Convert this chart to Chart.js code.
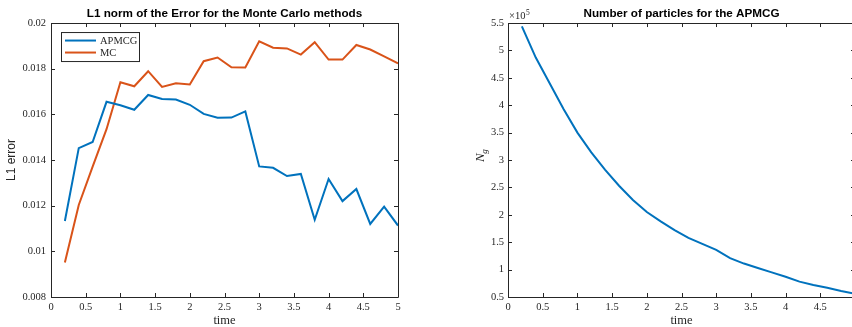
<!DOCTYPE html>
<html>
<head>
<meta charset="utf-8">
<script src="https://cdn.jsdelivr.net/npm/chart.js@4/dist/chart.umd.min.js"></script>
<style>
  html, body { margin: 0; padding: 0; background: #ffffff; width: 852px; height: 327px; overflow: hidden; }
  canvas { position: absolute; top: 0; }
  #errChart { left: 0; }
  #numChart { left: 430px; }
</style>
</head>
<body>
<canvas id="errChart" width="420" height="327"></canvas>
<canvas id="numChart" width="430" height="327"></canvas>
<script>
// Time steps shared by both plots
const times = [0.2, 0.4, 0.6, 0.8, 1.0, 1.2, 1.4, 1.6, 1.8, 2.0, 2.2, 2.4, 2.6,
               2.8, 3.0, 3.2, 3.4, 3.6, 3.8, 4.0, 4.2, 4.4, 4.6, 4.8, 5.0];

// L1 error of each method
const apmcgError = [0.01133, 0.01452, 0.01479, 0.01655, 0.01640, 0.01620, 0.01685, 0.01667, 0.01665,
                    0.01642, 0.01602, 0.01585, 0.01586, 0.01613, 0.01372, 0.01366, 0.01330, 0.01339,
                    0.01138, 0.01317, 0.01220, 0.01273, 0.01120, 0.01196, 0.01113];
const mcError = [0.00951, 0.01203, 0.01371, 0.01535, 0.01741, 0.01723, 0.01789, 0.01720, 0.01736,
                 0.01731, 0.01833, 0.01849, 0.01806, 0.01805, 0.01920, 0.01892, 0.01889, 0.01862,
                 0.01916, 0.01840, 0.01840, 0.01904, 0.01884, 0.01854, 0.01823];

// Number of particles N_g used by the APMCG
const particles = [544000, 487000, 440000, 393000, 350000, 314000, 282000, 253000, 227000,
                   205000, 188000, 172000, 158000, 147000, 136000, 121000, 111000, 103000,
                   95000, 87000, 78000, 72000, 67000, 61000, 56000];

const seriesNames = ['APMCG', 'MC'];
const chartTitles = ['L1 norm of the Error for the Monte Carlo methods', 'Number of particles for the APMCG'];
const axisTitles = { time: 'time', error: 'L1 error', count: 'N', countSub: 'g', exponent: '5' };

const BLUE = '#0072BD';
const ORANGE = '#D95319';
const AXIS = '#262626';
const SERIF = '"Liberation Serif", "Times New Roman", serif';
const SANS = '"Liberation Sans", Arial, sans-serif';

const toPoints = (xs, ys) => xs.map((x, i) => ({ x: x, y: ys[i] }));
const trim = v => String(Number(v.toFixed(6)));

// Box around the axes with inward tick marks on all four sides
const boxTicks = {
  id: 'boxTicks',
  afterDraw(chart) {
    const ctx = chart.ctx;
    const { left, right, top, bottom } = chart.chartArea;
    const len = 4;
    ctx.save();
    ctx.strokeStyle = AXIS;
    ctx.lineWidth = 1;
    ctx.beginPath();
    ctx.rect(Math.round(left) + 0.5, Math.round(top) + 0.5, Math.round(right - left), Math.round(bottom - top));
    const xs = chart.scales.x, ys = chart.scales.y;
    xs.ticks.forEach(t => {
      const p = Math.round(xs.getPixelForValue(t.value)) + 0.5;
      ctx.moveTo(p, bottom); ctx.lineTo(p, bottom - len);
      ctx.moveTo(p, top); ctx.lineTo(p, top + len);
    });
    ys.ticks.forEach(t => {
      const p = Math.round(ys.getPixelForValue(t.value)) + 0.5;
      ctx.moveTo(left, p); ctx.lineTo(left + len, p);
      ctx.moveTo(right, p); ctx.lineTo(right - len, p);
    });
    ctx.stroke();
    ctx.restore();
  }
};

// Legend box in the upper-left corner of the axes
const innerLegend = {
  id: 'innerLegend',
  afterDraw(chart) {
    const ctx = chart.ctx;
    const { left, top } = chart.chartArea;
    const bx = left + 10, by = top + 9, bw = 78, bh = 29;
    ctx.save();
    ctx.fillStyle = '#ffffff';
    ctx.fillRect(bx, by, bw, bh);
    ctx.strokeStyle = AXIS;
    ctx.lineWidth = 1;
    ctx.strokeRect(bx + 0.5, by + 0.5, bw, bh);
    ctx.font = '10.5px ' + SERIF;
    ctx.textBaseline = 'middle';
    chart.data.datasets.forEach((ds, i) => {
      const y = by + 8.5 + i * 12;
      ctx.strokeStyle = ds.borderColor;
      ctx.lineWidth = 2;
      ctx.beginPath();
      ctx.moveTo(bx + 4, y); ctx.lineTo(bx + 35, y);
      ctx.stroke();
      ctx.fillStyle = AXIS;
      ctx.fillText(ds.label, bx + 39, y + 0.5);
    });
    ctx.restore();
  }
};

// Y-axis label N_g and the x10^5 exponent of the particle plot
const countLabels = {
  id: 'countLabels',
  afterDraw(chart) {
    const ctx = chart.ctx;
    const { left, top, bottom } = chart.chartArea;
    ctx.save();
    ctx.fillStyle = AXIS;
    // exponent
    ctx.font = '10.5px ' + SERIF;
    ctx.textBaseline = 'alphabetic';
    ctx.textAlign = 'left';
    const base = '\u00d710';
    ctx.fillText(base, left + 1, top - 4);
    const w = ctx.measureText(base).width;
    ctx.font = '7.5px ' + SERIF;
    ctx.fillText(axisTitles.exponent, left + 1 + w + 0.5, top - 8);
    // rotated N_g
    ctx.translate(left - 27, (top + bottom) / 2 - 4);
    ctx.rotate(-Math.PI / 2);
    ctx.font = 'italic 13px ' + SERIF;
    ctx.textBaseline = 'middle';
    ctx.fillText(axisTitles.count, -6, 0);
    const nw = ctx.measureText(axisTitles.count).width;
    ctx.font = 'italic 9px ' + SERIF;
    ctx.fillText(axisTitles.countSub, -6 + nw - 0.5, 4);
    ctx.restore();
  }
};

function xAxis() {
  return {
    type: 'linear', min: 0, max: 5,
    afterFit: s => { s.height = 30; s.paddingLeft = 0; s.paddingRight = 0; },
    grid: { display: false, drawTicks: false },
    border: { display: false },
    ticks: { stepSize: 0.5, padding: 4, color: AXIS, font: { family: SERIF, size: 10.5 },
             maxRotation: 0, autoSkip: false, callback: v => trim(v) },
    title: { display: true, text: axisTitles.time, color: AXIS,
             font: { family: SERIF, size: 12.5, lineHeight: 1 }, padding: { top: 0, bottom: 0 } }
  };
}

const titleFont = { family: SANS, size: 11.7, weight: 'bold', lineHeight: 1.2 };

new Chart(document.getElementById('errChart'), {
  type: 'line',
  plugins: [boxTicks, innerLegend],
  data: {
    datasets: [
      { label: seriesNames[0], data: toPoints(times, apmcgError), borderColor: BLUE, borderWidth: 2,
        pointRadius: 0, tension: 0, fill: false },
      { label: seriesNames[1], data: toPoints(times, mcError), borderColor: ORANGE, borderWidth: 2,
        pointRadius: 0, tension: 0, fill: false }
    ]
  },
  options: {
    responsive: false, animation: false, devicePixelRatio: 1,
    layout: { padding: { left: 0, right: 22, top: 0, bottom: 0 } },
    plugins: {
      legend: { display: false }, tooltip: { enabled: false },
      title: { display: true, text: chartTitles[0], color: '#000000', font: titleFont, fullSize: false,
               padding: { top: 7, bottom: 2 } }
    },
    scales: {
      x: xAxis(),
      y: {
        type: 'linear', min: 0.008, max: 0.02,
        afterFit: s => { s.width = 51; },
        grid: { display: false, drawTicks: false },
        border: { display: false },
        ticks: { stepSize: 0.002, padding: 5, color: AXIS, font: { family: SERIF, size: 10.5 },
                 callback: v => trim(v) },
        title: { display: true, text: axisTitles.error, color: AXIS,
                 font: { family: SANS, size: 12, lineHeight: 1.2 }, padding: { top: 4.5, bottom: 0 } }
      }
    }
  }
});

new Chart(document.getElementById('numChart'), {
  type: 'line',
  plugins: [boxTicks, countLabels],
  data: {
    datasets: [
      { label: seriesNames[0], data: toPoints(times, particles), borderColor: BLUE, borderWidth: 2,
        pointRadius: 0, tension: 0, fill: false }
    ]
  },
  options: {
    responsive: false, animation: false, devicePixelRatio: 1,
    layout: { padding: { left: 0, right: 5, top: 0, bottom: 0 } },
    plugins: {
      legend: { display: false }, tooltip: { enabled: false },
      title: { display: true, text: chartTitles[1], color: '#000000', font: titleFont, fullSize: false,
               padding: { top: 7, bottom: 2 } }
    },
    scales: {
      x: xAxis(),
      y: {
        type: 'linear', min: 50000, max: 550000,
        afterFit: s => { s.width = 78; },
        grid: { display: false, drawTicks: false },
        border: { display: false },
        ticks: { stepSize: 50000, padding: 4, color: AXIS, font: { family: SERIF, size: 10.5 },
                 callback: v => trim(v / 100000) },
        title: { display: false }
      }
    }
  }
});
</script>
</body>
</html>
